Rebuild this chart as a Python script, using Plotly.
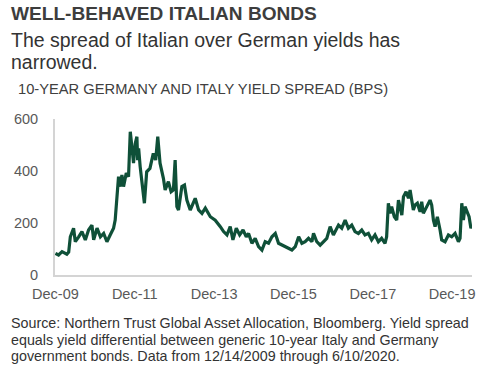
import plotly.graph_objects as go

dates = [
    "2009-12-14", "2010-01-12", "2010-02-13", "2010-03-29", "2010-04-15", "2010-04-30",
    "2010-05-30", "2010-06-15", "2010-07-16", "2010-08-15", "2010-09-15", "2010-10-15",
    "2010-11-15", "2010-12-01", "2011-01-01", "2011-02-01", "2011-03-03", "2011-04-02",
    "2011-05-02", "2011-06-02", "2011-06-17", "2011-07-02", "2011-07-18", "2011-08-03",
    "2011-08-18", "2011-09-02", "2011-09-27", "2011-10-18", "2011-11-03", "2011-11-18",
    "2011-12-03", "2011-12-19", "2012-01-03", "2012-01-10", "2012-01-19", "2012-02-02",
    "2012-02-17", "2012-03-12", "2012-04-02", "2012-05-02", "2012-06-02", "2012-06-24",
    "2012-07-13", "2012-08-03", "2012-09-03", "2012-09-19", "2012-10-19", "2012-11-13",
    "2012-12-04", "2012-12-20", "2013-01-05", "2013-01-20", "2013-02-20", "2013-03-16",
    "2013-04-07", "2013-05-08", "2013-06-23", "2013-07-24", "2013-08-24", "2013-09-24",
    "2013-11-09", "2013-12-24", "2014-02-09", "2014-03-11", "2014-04-11", "2014-05-11",
    "2014-06-05", "2014-07-06", "2014-08-06", "2014-09-06", "2014-10-06", "2014-10-27",
    "2014-11-27", "2014-12-27", "2015-01-27", "2015-02-27", "2015-03-29", "2015-04-29",
    "2015-05-30", "2015-06-30", "2015-07-30", "2015-08-30", "2015-10-15", "2015-11-30",
    "2015-12-31", "2016-01-31", "2016-03-01", "2016-03-31", "2016-05-01", "2016-06-01",
    "2016-06-16", "2016-07-16", "2016-08-16", "2016-09-16", "2016-10-16", "2016-11-16",
    "2016-12-16", "2017-02-01", "2017-03-03", "2017-04-03", "2017-05-03", "2017-06-03",
    "2017-07-03", "2017-08-03", "2017-09-03", "2017-10-03", "2017-11-03", "2017-12-03",
    "2018-01-03", "2018-02-03", "2018-03-05", "2018-04-05", "2018-04-20", "2018-05-06",
    "2018-05-21", "2018-06-05", "2018-06-30", "2018-07-22", "2018-08-07", "2018-09-07",
    "2018-09-22", "2018-10-16", "2018-11-07", "2018-11-22", "2018-12-07", "2018-12-22",
    "2019-01-07", "2019-01-28", "2019-02-22", "2019-03-09", "2019-03-24", "2019-04-24",
    "2019-05-25", "2019-06-09", "2019-06-25", "2019-07-10", "2019-07-31", "2019-08-25",
    "2019-09-09", "2019-10-10", "2019-11-10", "2019-12-10", "2020-01-10", "2020-02-10",
    "2020-02-25", "2020-03-12", "2020-03-27", "2020-04-11", "2020-05-03", "2020-05-18",
    "2020-06-04", "2020-06-10",
]
spread_bps = [
    83, 77, 90, 80, 88, 147,
    180, 128, 147, 167, 135, 173,
    192, 135, 180, 147, 160, 128,
    154, 180, 211, 277, 378, 340,
    385, 340, 392, 378, 551, 493,
    430, 506, 532, 442, 487, 417,
    365, 276, 397, 410, 468, 442,
    532, 430, 372, 327, 359, 320,
    327, 442, 263, 250, 340, 346,
    288, 250, 295, 250, 237, 257,
    224, 211, 186, 167, 154, 186,
    135, 180, 154, 173, 147, 160,
    122, 141, 109, 96, 128, 122,
    147, 160, 122, 115, 103, 96,
    109, 147, 122, 128, 141, 128,
    160, 128, 115, 128, 141, 186,
    154, 192, 180, 211, 180, 192,
    167, 160, 173, 154, 160, 135,
    154, 128, 141, 122, 147, 276,
    237, 263, 224, 211, 288, 230,
    301, 320, 295, 327, 288, 250,
    269, 276, 243, 282, 237, 263,
    288, 269, 211, 186, 224, 173,
    135, 128, 154, 147, 160, 128,
    141, 276, 211, 263, 237, 224,
    180, 186,
]
tick_dates = ["2009-12-14", "2011-12-14", "2013-12-14", "2015-12-14", "2017-12-14", "2019-12-14"]
tick_labels = ["Dec-09", "Dec-11", "Dec-13", "Dec-15", "Dec-17", "Dec-19"]
y_ticks = [0, 200, 400, 600]

W, H = 500, 368
L, R, T, B = 55, 28, 119, 93
FONT = "Arial, 'Liberation Sans', sans-serif"

fig = go.Figure()
fig.add_trace(go.Scatter(
    x=dates, y=spread_bps, mode="lines",
    line=dict(color="#0f5038", width=3.2),
    hoverinfo="skip",
))

def px(x):
    return (x - L) / (W - L - R)

def py(y):
    return (H - B - y) / (H - T - B)

texts = [
    ("WELL-BEHAVED ITALIAN BONDS", 9, 14, 19.1, "#3d3d3d", True),
    ("The spread of Italian over German yields has", 9, 40, 19.5, "#333333", False),
    ("narrowed.", 9, 62, 19.5, "#333333", False),
    ("10-YEAR GERMANY AND ITALY YIELD SPREAD (BPS)", 16, 89, 14.7, "#404040", False),
    ("Source: Northern Trust Global Asset Allocation, Bloomberg. Yield spread", 9, 323, 14.3, "#333333", False),
    ("equals yield differential between generic 10-year Italy and Germany", 9, 339.5, 14.3, "#333333", False),
    ("government bonds. Data from 12/14/2009 through 6/10/2020.", 9, 356, 14.3, "#333333", False),
]
annotations = []
for txt, x, y, size, color, bold in texts:
    annotations.append(dict(
        text=f"<b>{txt}</b>" if bold else txt,
        xref="paper", yref="paper", x=px(x), y=py(y),
        xanchor="left", yanchor="middle", showarrow=False,
        font=dict(family=FONT, size=size, color=color),
    ))

fig.update_layout(
    width=W, height=H,
    margin=dict(l=L, r=R, t=T, b=B, pad=0),
    paper_bgcolor="white", plot_bgcolor="white",
    showlegend=False,
    annotations=annotations,
    font=dict(family=FONT),
    xaxis=dict(
        range=["2009-12-10", "2020-06-14"],
        tickvals=tick_dates, ticktext=tick_labels,
        showgrid=False, zeroline=False,
        showline=True, linecolor="#d4d4d4", linewidth=2,
        ticks="", ticklabelstandoff=5,
        tickfont=dict(family=FONT, size=14.5, color="#595959"),
    ),
    yaxis=dict(
        range=[0, 600],
        tickvals=y_ticks,
        showgrid=False, zeroline=False,
        showline=True, linecolor="#d4d4d4", linewidth=2,
        ticks="", ticklabelstandoff=12,
        tickfont=dict(family=FONT, size=14.5, color="#595959"),
    ),
)

fig.write_html(
    "out.html",
    config={"displayModeBar": False},
    post_script="document.body.style.margin='0';document.body.style.overflow='hidden';",
)
